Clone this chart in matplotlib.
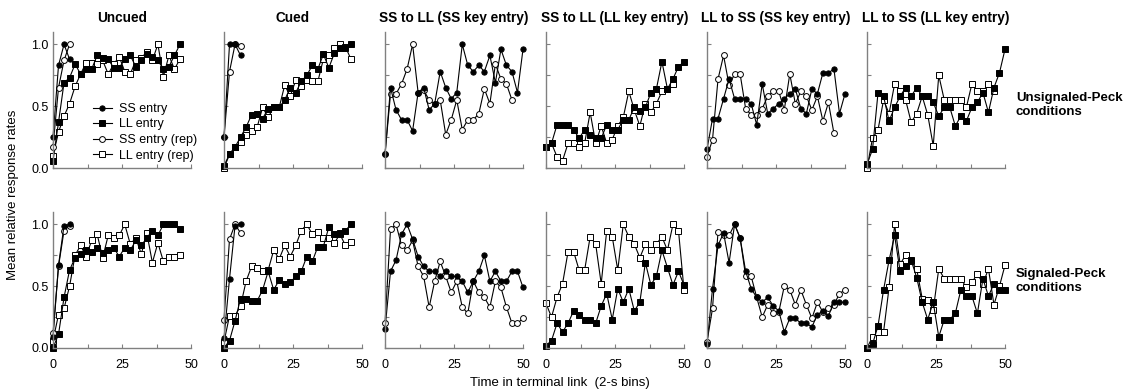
import matplotlib
matplotlib.use("Agg")
import matplotlib.pyplot as plt
import numpy as np

plt.rcParams['font.family'] = ['Liberation Sans', 'DejaVu Sans']

# panel titles and row labels
titles = ["Uncued", "Cued", "SS to LL (SS key entry)", "SS to LL (LL key entry)",
          "LL to SS (SS key entry)", "LL to SS (LL key entry)"]
row_labels = ["Unsignaled-Peck\nconditions", "Signaled-Peck\nconditions"]
legend_labels = ["SS entry", "LL entry", "SS entry (rep)", "LL entry (rep)"]

# ---- unsignaled-peck (top row) ----
uncued_u_ss = [0.25, 0.83, 1.0, 0.88]
uncued_u_ss_rep = [0.17, 0.65, 0.87, 1.0]
uncued_u_ll = [0.06, 0.37, 0.69, 0.73, 0.84, 0.76, 0.80, 0.80, 0.91, 0.89, 0.88, 0.81,
               0.81, 0.88, 0.91, 0.82, 0.87, 0.92, 0.90, 0.87, 0.80, 0.82, 0.91, 1.0]
uncued_u_ll_rep = [0.10, 0.29, 0.42, 0.52, 0.66, 0.76, 0.85, 0.85, 0.84, 0.87, 0.76, 0.84,
                   0.90, 0.78, 0.76, 0.87, 0.89, 0.94, 0.87, 1.0, 0.74, 0.91, 0.80, 0.88]

cued_u_ss = [0.25, 1.0, 1.0, 0.91]
cued_u_ss_rep = [0.25, 0.78, 1.0, 0.99]
cued_u_ll = [0.02, 0.11, 0.17, 0.25, 0.33, 0.43, 0.44, 0.40, 0.48, 0.49, 0.49, 0.55,
             0.65, 0.61, 0.70, 0.75, 0.83, 0.80, 0.92, 0.81, 0.93, 0.97, 0.97, 1.0]
cued_u_ll_rep = [0.0, 0.11, 0.17, 0.21, 0.27, 0.30, 0.33, 0.49, 0.41, 0.49, 0.49, 0.67,
                 0.58, 0.71, 0.66, 0.71, 0.70, 0.70, 0.88, 0.91, 0.97, 1.0, 0.98, 0.88]

ssll_ssk_u = [0.11, 0.65, 0.47, 0.39, 0.39, 0.30, 0.61, 0.65, 0.47, 0.52, 0.78, 0.65, 0.56,
              0.61, 1.0, 0.83, 0.78, 0.83, 0.78, 0.91, 0.69, 0.96, 0.83, 0.78, 0.61, 0.96]
ssll_ssk_u_rep = [0.11, 0.60, 0.60, 0.68, 0.80, 1.0, 0.61, 0.63, 0.55, 0.52, 0.55, 0.27,
                  0.39, 0.55, 0.31, 0.39, 0.39, 0.44, 0.64, 0.52, 0.84, 0.72, 0.68, 0.55]

ssll_llk_u = [0.17, 0.20, 0.35, 0.35, 0.35, 0.31, 0.24, 0.31, 0.27, 0.24, 0.24, 0.35, 0.31,
              0.31, 0.39, 0.39, 0.49, 0.46, 0.49, 0.61, 0.64, 0.86, 0.64, 0.72, 0.82, 0.86]
ssll_llk_u_rep = [0.17, 0.20, 0.09, 0.06, 0.20, 0.20, 0.17, 0.20, 0.45, 0.20, 0.34, 0.20,
                  0.23, 0.34, 0.41, 0.62, 0.47, 0.34, 0.52, 0.45, 0.52, 0.62, 0.64, 0.68]

llss_ssk_u = [0.15, 0.40, 0.40, 0.56, 0.72, 0.56, 0.56, 0.56, 0.52, 0.35, 0.68, 0.44, 0.48,
              0.52, 0.56, 0.60, 0.64, 0.48, 0.44, 0.64, 0.60, 0.77, 0.77, 0.80, 0.44, 0.60]
llss_ssk_u_rep = [0.09, 0.23, 0.72, 0.91, 0.67, 0.76, 0.76, 0.48, 0.43, 0.43, 0.48, 0.58,
                  0.62, 0.62, 0.47, 0.76, 0.52, 0.62, 0.58, 0.47, 0.58, 0.38, 0.53, 0.28]

llss_llk_u = [0.03, 0.15, 0.61, 0.58, 0.38, 0.49, 0.58, 0.65, 0.58, 0.65, 0.58, 0.58, 0.53,
              0.42, 0.49, 0.49, 0.34, 0.42, 0.38, 0.49, 0.53, 0.61, 0.45, 0.65, 0.77, 0.96]
llss_llk_u_rep = [0.0, 0.24, 0.31, 0.55, 0.44, 0.68, 0.62, 0.55, 0.37, 0.44, 0.58, 0.43,
                  0.18, 0.75, 0.55, 0.55, 0.55, 0.55, 0.49, 0.68, 0.62, 0.62, 0.68, 0.62]

# ---- signaled-peck (bottom row) ----
uncued_s_ss = [0.09, 0.67, 0.99, 1.0]
uncued_s_ss_rep = [0.12, 0.66, 0.95, 0.99]
uncued_s_ll = [0.0, 0.11, 0.41, 0.63, 0.73, 0.76, 0.79, 0.78, 0.81, 0.77, 0.79, 0.81,
               0.74, 0.81, 0.79, 0.87, 0.83, 0.89, 0.95, 0.91, 1.0, 1.0, 1.0, 0.96]
uncued_s_ll_rep = [0.06, 0.27, 0.32, 0.50, 0.75, 0.83, 0.74, 0.87, 0.92, 0.73, 0.91, 0.89,
                   0.91, 1.0, 0.84, 0.89, 0.76, 0.93, 0.69, 0.85, 0.70, 0.74, 0.74, 0.75]

cued_s_ss = [0.08, 0.56, 0.99, 1.0]
cued_s_ss_rep = [0.23, 0.88, 1.0, 0.93]
cued_s_ll = [0.0, 0.06, 0.22, 0.40, 0.40, 0.38, 0.38, 0.47, 0.62, 0.47, 0.55, 0.52,
             0.53, 0.58, 0.62, 0.74, 0.70, 0.82, 0.82, 0.98, 0.92, 0.93, 0.95, 1.0]
cued_s_ll_rep = [0.05, 0.26, 0.26, 0.34, 0.54, 0.66, 0.65, 0.62, 0.63, 0.79, 0.72, 0.83,
                 0.74, 0.83, 0.95, 1.0, 0.92, 0.94, 0.89, 0.89, 0.85, 0.92, 0.83, 0.86]

ssll_ssk_s = [0.15, 0.62, 0.71, 0.92, 1.0, 0.88, 0.74, 0.66, 0.62, 0.62, 0.58, 0.62, 0.58,
              0.58, 0.54, 0.45, 0.54, 0.62, 0.75, 0.54, 0.62, 0.54, 0.54, 0.62, 0.62, 0.49]
ssll_ssk_s_rep = [0.20, 0.96, 1.0, 0.83, 0.79, 0.87, 0.66, 0.58, 0.33, 0.54, 0.70, 0.58, 0.45,
                  0.54, 0.33, 0.28, 0.54, 0.45, 0.41, 0.33, 0.54, 0.49, 0.33, 0.20, 0.20, 0.24]

ssll_llk_s = [0.02, 0.06, 0.20, 0.13, 0.20, 0.30, 0.27, 0.23, 0.23, 0.20, 0.34, 0.44, 0.23,
              0.48, 0.37, 0.48, 0.30, 0.37, 0.69, 0.51, 0.58, 0.79, 0.65, 0.51, 0.62, 0.51]
ssll_llk_s_rep = [0.36, 0.25, 0.41, 0.52, 0.78, 0.78, 0.63, 0.63, 0.90, 0.84, 0.52, 0.95, 0.90,
                  0.63, 1.0, 0.90, 0.84, 0.73, 0.84, 0.79, 0.84, 0.90, 0.79, 1.0, 0.95, 0.47]

llss_ssk_s = [0.03, 0.48, 0.83, 0.93, 0.69, 1.0, 0.89, 0.62, 0.48, 0.41, 0.37, 0.41, 0.34,
              0.30, 0.13, 0.24, 0.24, 0.20, 0.20, 0.17, 0.27, 0.30, 0.26, 0.37, 0.37, 0.37]
llss_ssk_s_rep = [0.05, 0.32, 0.94, 0.91, 0.91, 1.0, 0.89, 0.58, 0.58, 0.41, 0.25, 0.35, 0.28,
                  0.29, 0.50, 0.47, 0.35, 0.47, 0.35, 0.24, 0.37, 0.29, 0.32, 0.35, 0.44, 0.47]

llss_llk_s = [0.0, 0.03, 0.18, 0.47, 0.71, 0.91, 0.62, 0.66, 0.71, 0.57, 0.37, 0.23, 0.37,
              0.09, 0.23, 0.23, 0.28, 0.47, 0.42, 0.42, 0.28, 0.56, 0.42, 0.52, 0.47, 0.47]
llss_llk_s_rep = [0.0, 0.09, 0.13, 0.13, 0.49, 1.0, 0.68, 0.75, 0.70, 0.64, 0.40, 0.39, 0.31,
                  0.64, 0.56, 0.56, 0.56, 0.56, 0.49, 0.53, 0.60, 0.52, 0.64, 0.35, 0.50, 0.67]

# marker style per series kind
styles = {
    "ss": dict(marker="o", mfc="black", ms=3.8),
    "ll": dict(marker="s", mfc="black", ms=4.0),
    "ss_rep": dict(marker="o", mfc="white", ms=4.2),
    "ll_rep": dict(marker="s", mfc="white", ms=4.4),
}

panels = [
    [
        [("ll_rep", uncued_u_ll_rep), ("ll", uncued_u_ll), ("ss_rep", uncued_u_ss_rep), ("ss", uncued_u_ss)],
        [("ll_rep", cued_u_ll_rep), ("ll", cued_u_ll), ("ss_rep", cued_u_ss_rep), ("ss", cued_u_ss)],
        [("ss_rep", ssll_ssk_u_rep), ("ss", ssll_ssk_u)],
        [("ll_rep", ssll_llk_u_rep), ("ll", ssll_llk_u)],
        [("ss_rep", llss_ssk_u_rep), ("ss", llss_ssk_u)],
        [("ll_rep", llss_llk_u_rep), ("ll", llss_llk_u)],
    ],
    [
        [("ll_rep", uncued_s_ll_rep), ("ll", uncued_s_ll), ("ss_rep", uncued_s_ss_rep), ("ss", uncued_s_ss)],
        [("ll_rep", cued_s_ll_rep), ("ll", cued_s_ll), ("ss_rep", cued_s_ss_rep), ("ss", cued_s_ss)],
        [("ss_rep", ssll_ssk_s_rep), ("ss", ssll_ssk_s)],
        [("ll_rep", ssll_llk_s_rep), ("ll", ssll_llk_s)],
        [("ss_rep", llss_ssk_s_rep), ("ss", llss_ssk_s)],
        [("ll_rep", llss_llk_s_rep), ("ll", llss_llk_s)],
    ],
]

W, H = 1129, 391
fig = plt.figure(figsize=(W / 100, H / 100), dpi=100)

lefts = [53, 224, 385, 546, 707, 867]
width = 138
tops = [32, 212]
height = 136
spine_col = "#808080"

for r in range(2):
    for c in range(6):
        ax = fig.add_axes([lefts[c] / W, 1 - (tops[r] + height) / H, width / W, height / H])
        for kind, vals in panels[r][c]:
            x = 2 * np.arange(len(vals))
            ax.plot(x, vals, color="black", lw=0.8, mec="black", mew=0.7,
                    clip_on=False, **styles[kind])
        ax.set_xlim(0, 50)
        ax.set_ylim(0, 1.1)
        for s in ["top", "right"]:
            ax.spines[s].set_visible(False)
        for s in ["left", "bottom"]:
            ax.spines[s].set_color(spine_col)
            ax.spines[s].set_linewidth(1.0)
        ax.set_yticks([0, 0.25, 0.5, 0.75, 1.0])
        ax.set_xticks([0, 12.5, 25, 37.5, 50])
        ax.tick_params(direction="in", length=3, width=0.8, color=spine_col,
                       labelsize=9)
        ax.tick_params(axis="y", pad=3)
        ax.tick_params(axis="x", pad=8)
        if c == 0:
            ax.set_yticklabels(["0.0", "", "0.5", "", "1.0"])
        else:
            ax.set_yticklabels([])
        if r == 1:
            ax.set_xticklabels(["0", "", "25", "", "50"])
        else:
            ax.set_xticklabels([])
        if r == 0:
            fig.text((lefts[c] + width / 2) / W, 1 - 18 / H, titles[c],
                     ha="center", va="center", fontsize=9.8, fontweight="bold")

# legend in the first panel
handles = [plt.Line2D([], [], color="black", lw=0.8, mec="black", mew=0.7, **styles[k])
           for k in ["ss", "ll", "ss_rep", "ll_rep"]]
fig.legend(handles, legend_labels, loc="upper left",
           bbox_to_anchor=(93 / W, 1 - 103 / H), frameon=False, fontsize=9,
           handlelength=1.5, handletextpad=0.55, labelspacing=0.28, borderpad=0,
           borderaxespad=0)

for r, lab in enumerate(row_labels):
    fig.text(1016 / W, 1 - [105, 281][r] / H, lab, ha="left", va="center",
             fontsize=9.5, fontweight="bold", linespacing=1.3)

fig.text(13 / W, 1 - 195 / H, "Mean relative response rates", rotation=90,
         ha="center", va="center", fontsize=9.5)
fig.text(560 / W, 1 - 383 / H, "Time in terminal link  (2-s bins)",
         ha="center", va="center", fontsize=9.5)

fig.savefig("out.png", dpi=100)
